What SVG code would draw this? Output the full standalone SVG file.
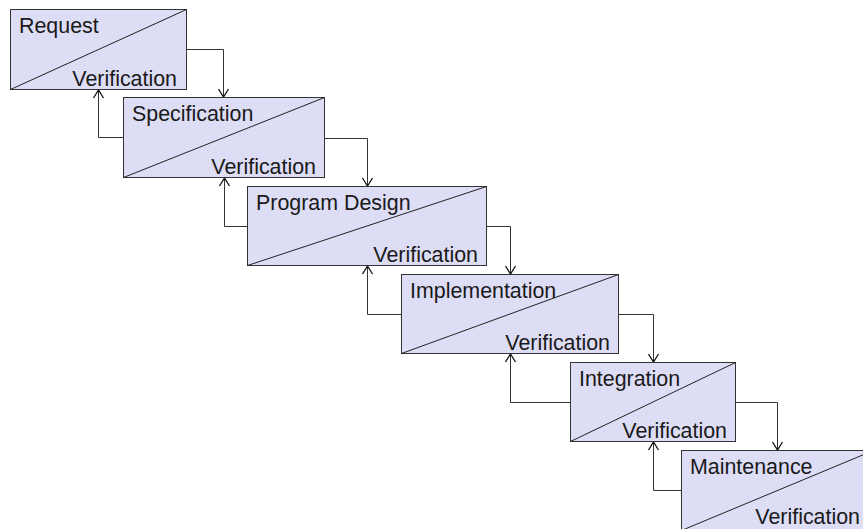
<svg xmlns="http://www.w3.org/2000/svg" width="863" height="529" viewBox="0 0 863 529">
  <style>
    .box { fill: #ddddf5; stroke: #333333; stroke-width: 1; }
    .diag { fill: none; stroke: #222222; stroke-width: 1; }
    .lbl { font-family: "Liberation Sans", Arial, sans-serif; font-size: 21.4px; fill: #1a1a1a; }
    .ver { text-anchor: end; }
    .conn { fill: none; stroke: #333333; stroke-width: 1; marker-end: url(#arrow); }
  </style>
  <defs>
    <marker id="arrow" markerUnits="userSpaceOnUse" markerWidth="20" markerHeight="20" viewBox="-10 -10 20 20" refX="0" refY="0" orient="auto" overflow="visible">
      <path d="M-8,-5 L0,0 L-8,5" fill="none" stroke="#111111" stroke-width="1.3"/>
    </marker>
  </defs>
  <rect width="863" height="529" fill="#ffffff"/>

  <g id="connectors">
    <path class="conn" d="M186.5 49.5 H223.5 V97"/>
    <path class="conn" d="M123.5 137.5 H98.5 V90"/>
    <path class="conn" d="M324.5 138.5 H367.5 V186"/>
    <path class="conn" d="M247.5 226.5 H224.5 V178"/>
    <path class="conn" d="M486.5 226.5 H510.5 V274"/>
    <path class="conn" d="M401.5 314.5 H367.5 V266"/>
    <path class="conn" d="M618.5 314.5 H653.5 V362"/>
    <path class="conn" d="M570.5 402.5 H510.5 V354"/>
    <path class="conn" d="M735.5 402.5 H777.5 V450"/>
    <path class="conn" d="M681.5 490.5 H653.5 V442"/>
  </g>

  <g id="request">
    <rect class="box" x="10.5" y="9.5" width="176" height="80"/>
    <path class="diag" d="M10.5 89.5 L186.5 9.5"/>
    <text class="lbl" x="19" y="33">Request</text>
    <text class="lbl ver" x="177" y="86">Verification</text>
  </g>

  <g id="specification">
    <rect class="box" x="123.5" y="97.5" width="201" height="80"/>
    <path class="diag" d="M123.5 177.5 L324.5 97.5"/>
    <text class="lbl" x="132" y="121">Specification</text>
    <text class="lbl ver" x="316" y="174">Verification</text>
  </g>

  <g id="program-design">
    <rect class="box" x="247.5" y="186.5" width="239" height="79"/>
    <path class="diag" d="M247.5 265.5 L486.5 186.5"/>
    <text class="lbl" x="256" y="210">Program Design</text>
    <text class="lbl ver" x="478" y="262">Verification</text>
  </g>

  <g id="implementation">
    <rect class="box" x="401.5" y="274.5" width="217" height="79"/>
    <path class="diag" d="M401.5 353.5 L618.5 274.5"/>
    <text class="lbl" x="410" y="298">Implementation</text>
    <text class="lbl ver" x="610" y="350">Verification</text>
  </g>

  <g id="integration">
    <rect class="box" x="570.5" y="362.5" width="165" height="79"/>
    <path class="diag" d="M570.5 441.5 L735.5 362.5"/>
    <text class="lbl" x="579" y="386">Integration</text>
    <text class="lbl ver" x="727" y="438">Verification</text>
  </g>

  <g id="maintenance">
    <rect class="box" x="681.5" y="450.5" width="192" height="80"/>
    <path class="diag" d="M681.5 530.5 L873.5 450.5"/>
    <text class="lbl" x="690" y="474">Maintenance</text>
    <text class="lbl ver" x="860" y="524">Verification</text>
  </g>
</svg>
